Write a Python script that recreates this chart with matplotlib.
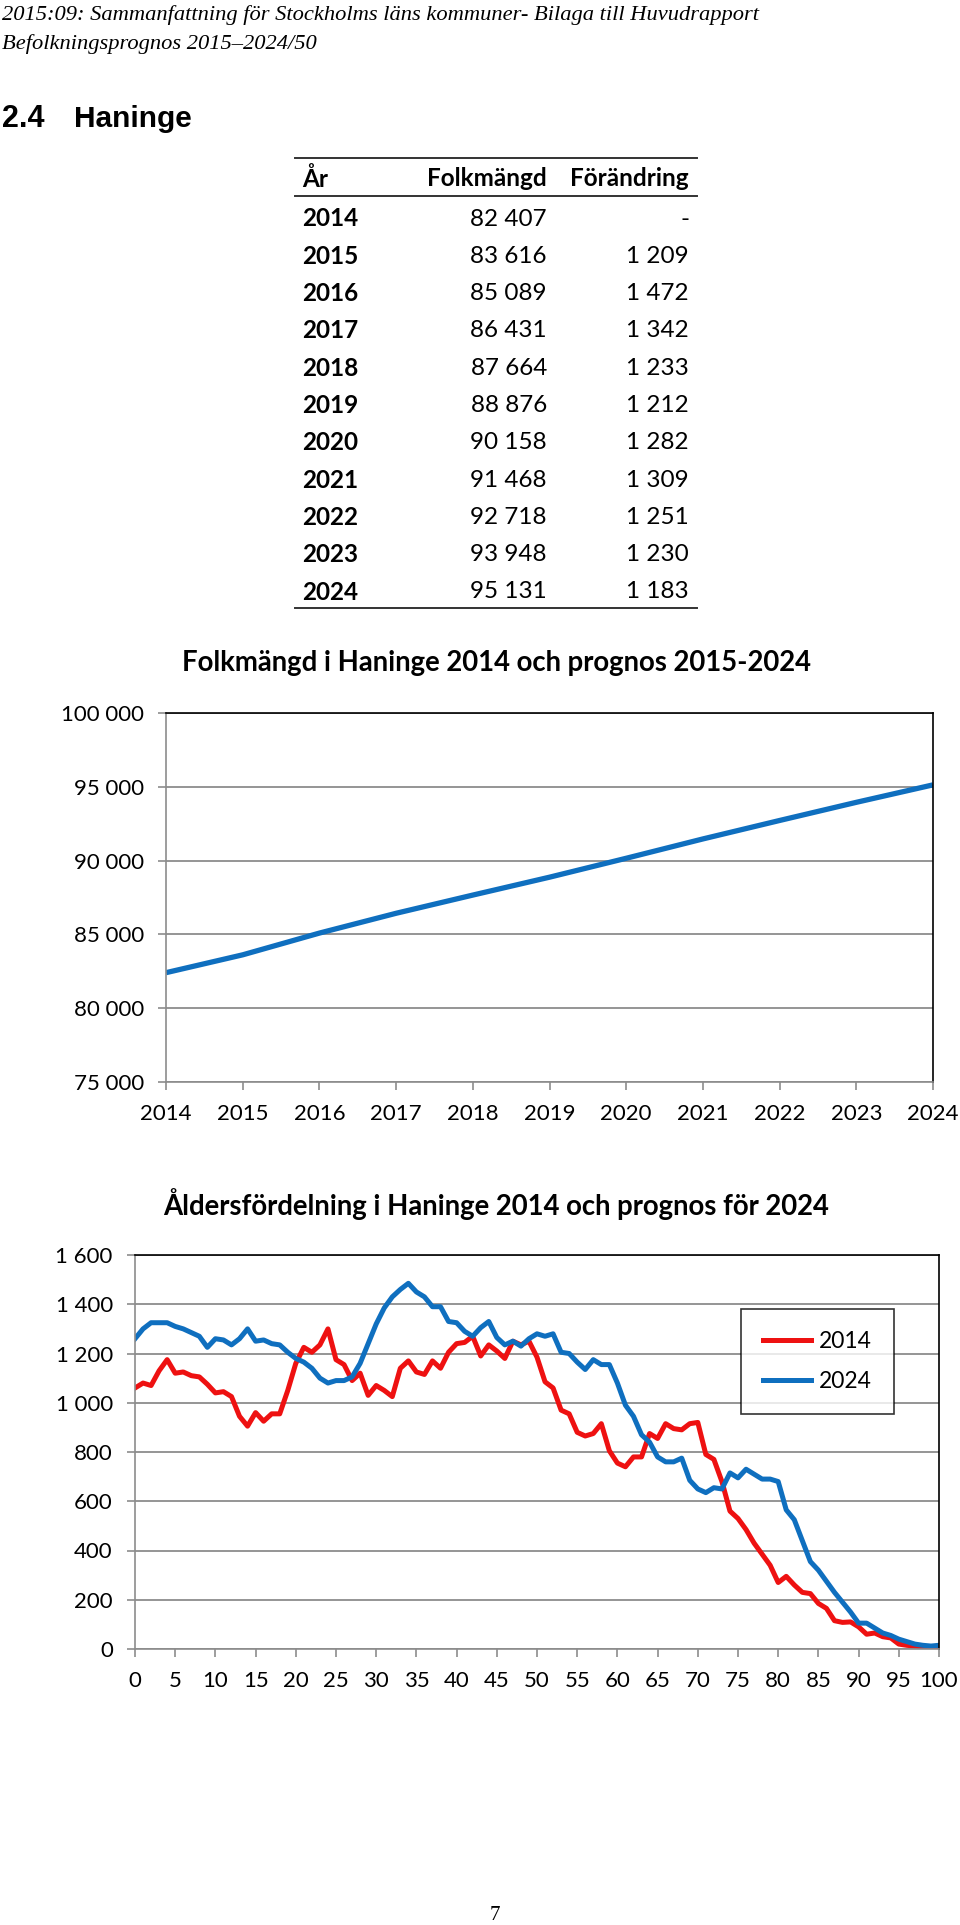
import matplotlib
matplotlib.use("Agg")
import matplotlib.pyplot as plt
from matplotlib.lines import Line2D
from matplotlib.ticker import FuncFormatter, MultipleLocator

W, H = 960, 1925

# --- data -------------------------------------------------------------
years = [2014, 2015, 2016, 2017, 2018, 2019, 2020, 2021, 2022, 2023, 2024]
folkmangd = [82407, 83616, 85089, 86431, 87664, 88876, 90158, 91468, 92718, 93948, 95131]
forandring = [None, 1209, 1472, 1342, 1233, 1212, 1282, 1309, 1251, 1230, 1183]

ages = list(range(101))
pop_2014 = [
    1060, 1080, 1070, 1130, 1175, 1120, 1125, 1110, 1105, 1075,
    1040, 1045, 1025, 945, 905, 960, 925, 955, 955, 1050,
    1160, 1225, 1205, 1235, 1300, 1175, 1155, 1090, 1120, 1030,
    1070, 1050, 1025, 1140, 1170, 1125, 1115, 1170, 1140, 1205,
    1240, 1245, 1270, 1190, 1235, 1210, 1180, 1250, 1235, 1250,
    1185, 1085, 1060, 970, 955, 880, 865, 875, 915, 805,
    755, 740, 780, 780, 875, 855, 915, 895, 890, 915,
    920, 790, 770, 680, 560, 530, 485, 430, 385, 340,
    270, 295, 260, 230, 225, 185, 165, 115, 108, 110,
    90, 60, 65, 50, 45, 20, 15, 12, 8, 5,
    2,
]
pop_2024 = [
    1260, 1300, 1325, 1325, 1325, 1310, 1300, 1285, 1270, 1225,
    1260, 1255, 1235, 1260, 1300, 1250, 1255, 1240, 1235, 1205,
    1180, 1165, 1140, 1100, 1080, 1090, 1090, 1105, 1160, 1240,
    1320, 1385, 1430, 1460, 1485, 1450, 1430, 1390, 1390, 1330,
    1325, 1290, 1270, 1305, 1330, 1265, 1235, 1250, 1230, 1260,
    1280, 1270, 1280, 1205, 1200, 1165, 1135, 1175, 1155, 1155,
    1080, 990, 945, 870, 840, 780, 760, 760, 775, 685,
    650, 635, 655, 650, 715, 695, 730, 710, 690, 690,
    680, 565, 525, 440, 355, 320, 275, 230, 190, 150,
    105, 105, 85, 65, 55, 40, 30, 20, 15, 12,
    15,
]

RED = "#ee1111"
BLUE = "#0f6fbf"
GRID = "#8c8c8c"
SANS = ["Lato", "DejaVu Sans"]


def fx(x):
    return x / W


def fy(y):
    return 1 - y / H


def space_thousands(v, _pos=None):
    return f"{int(round(v)):,}".replace(",", " ")


fig = plt.figure(figsize=(W / 100, H / 100), dpi=100)
fig.patch.set_facecolor("white")

# --- page header -----------------------------------------------------
fig.text(fx(2), fy(15), "2015:09: Sammanfattning för Stockholms läns kommuner- Bilaga till Huvudrapport",
         family="Liberation Serif", style="italic", fontsize=16.2, va="center", ha="left")
fig.text(fx(2), fy(44), "Befolkningsprognos 2015\u20132024/50",
         family="Liberation Serif", style="italic", fontsize=16.2, va="center", ha="left")
fig.text(fx(2), fy(119), "2.4", family="Liberation Sans", weight="bold", fontsize=22, va="center")
fig.text(fx(74), fy(119), "Haninge", family="Liberation Sans", weight="bold", fontsize=21.5, va="center")

# --- table -------------------------------------------------------------
tl, tr = 295, 697
for yy in (158, 196, 608):
    fig.add_artist(Line2D([fx(tl), fx(tr)], [fy(yy), fy(yy)], transform=fig.transFigure,
                          color="#333333", lw=1.4))
TS = 17.5
hy = 179
fig.text(fx(302), fy(hy), "År", family=SANS, weight="bold", fontsize=TS, va="center")
fig.text(fx(547), fy(hy), "Folkmängd", family=SANS, weight="bold", fontsize=TS, va="center", ha="right")
fig.text(fx(689), fy(hy), "Förändring", family=SANS, weight="bold", fontsize=TS, va="center", ha="right")
for i, (yr, fm, fd) in enumerate(zip(years, folkmangd, forandring)):
    ry = 219 + i * 37.3
    fig.text(fx(302), fy(ry), str(yr), family=SANS, weight="bold", fontsize=TS, va="center")
    fig.text(fx(547), fy(ry), space_thousands(fm), family=SANS, fontsize=TS, va="center", ha="right")
    fig.text(fx(689), fy(ry), "-" if fd is None else space_thousands(fd),
             family=SANS, fontsize=TS, va="center", ha="right")


def style_axes(ax):
    for side in ("left", "bottom"):
        ax.spines[side].set_color(GRID)
        ax.spines[side].set_linewidth(1.2)
    for side in ("top", "right"):
        ax.spines[side].set_color("black")
        ax.spines[side].set_linewidth(1.2)
    ax.grid(axis="y", color=GRID, lw=1.3)
    ax.set_axisbelow(True)
    ax.tick_params(direction="out", length=6, width=1.2, color=GRID, labelsize=16, pad=10)
    for lab in ax.get_xticklabels() + ax.get_yticklabels():
        lab.set_family(SANS)


# --- chart 1: folkmängd ----------------------------------------------------
l1, r1, t1, b1 = 166, 933, 713, 1082
ax1 = fig.add_axes([fx(l1), fy(b1), fx(r1) - fx(l1), (b1 - t1) / H])
ax1.plot(years, folkmangd, color=BLUE, lw=3.8, solid_capstyle="butt")
ax1.set_xlim(2014, 2024)
ax1.set_ylim(75000, 100000)
ax1.set_xticks(years)
ax1.yaxis.set_major_locator(MultipleLocator(5000))
ax1.yaxis.set_major_formatter(FuncFormatter(space_thousands))
style_axes(ax1)
fig.text(fx(496), fy(663), "Folkmängd i Haninge 2014 och prognos 2015-2024",
         family=SANS, weight="bold", fontsize=19.8, ha="center", va="center")

# --- chart 2: åldersfördelning ----------------------------------------------
l2, r2, t2, b2 = 135, 939, 1255, 1649
ax2 = fig.add_axes([fx(l2), fy(b2), fx(r2) - fx(l2), (b2 - t2) / H])
ax2.plot(ages, pop_2014, color=RED, lw=3.6, label="2014")
ax2.plot(ages, pop_2024, color=BLUE, lw=3.6, label="2024")
ax2.set_xlim(0, 100)
ax2.set_ylim(0, 1600)
ax2.xaxis.set_major_locator(MultipleLocator(5))
ax2.yaxis.set_major_locator(MultipleLocator(200))
ax2.yaxis.set_major_formatter(FuncFormatter(space_thousands))
style_axes(ax2)
leg = ax2.legend(loc="upper left", bbox_to_anchor=((741 - l2) / (r2 - l2), 1 - (1309 - t2) / (b2 - t2)),
                 frameon=True, fancybox=False, edgecolor="black", prop={"family": SANS, "size": 16.5},
                 handlelength=2.1, handletextpad=0.35, labelspacing=0.85, borderpad=0.95,
                 borderaxespad=0)
leg.get_frame().set_linewidth(1.2)
fig.text(fx(496), fy(1204), "Åldersfördelning i Haninge 2014 och prognos för 2024",
         family=SANS, weight="bold", fontsize=19.8, ha="center", va="center")

# --- page number -------------------------------------------------------
fig.text(fx(495), fy(1915), "7", family="Liberation Serif", fontsize=15, ha="center", va="center")

fig.savefig("out.png", dpi=100, facecolor="white")
